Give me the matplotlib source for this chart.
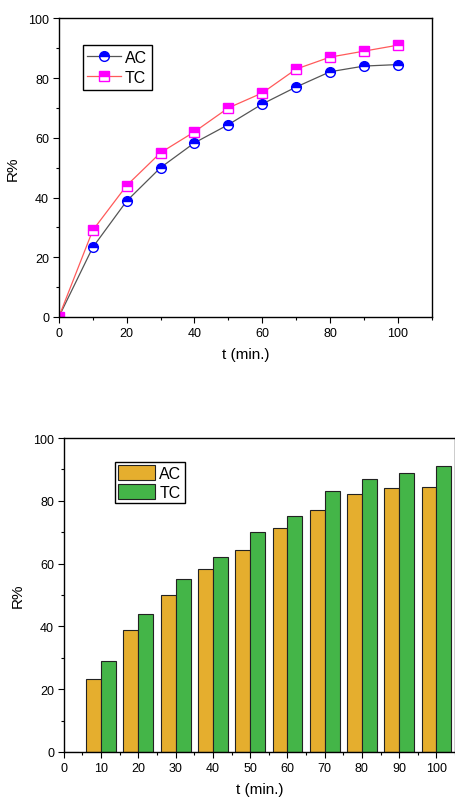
import numpy as np
import matplotlib
matplotlib.use("Agg")
import matplotlib.pyplot as plt
from matplotlib.ticker import MultipleLocator

matplotlib.rcParams['font.family'] = ['Liberation Sans', 'DejaVu Sans']
matplotlib.rcParams['font.size'] = 9

# removal efficiency vs contact time
t = [0, 10, 20, 30, 40, 50, 60, 70, 80, 90, 100]
r_ac = [0, 23.3, 38.8, 50.0, 58.3, 64.4, 71.3, 77.0, 82.1, 84.0, 84.5]
r_tc = [0, 29.0, 44.0, 55.0, 62.0, 70.0, 75.0, 83.0, 87.0, 89.0, 91.0]

fig = plt.figure(figsize=(4.56, 8.03), dpi=100)

# --- line plot ---
ax1 = fig.add_axes([0.129, 0.604, 0.818, 0.372])
ax1.plot(t, r_ac, color="#555555", lw=0.9, marker="o", ms=7,
         mfc="blue", mfcalt="white", fillstyle="top", mec="blue", mew=1.0, label="AC")
ax1.plot(t, r_tc, color="#ff5a5a", lw=0.9, marker="s", ms=6.5,
         mfc="#ff00ff", mfcalt="white", fillstyle="top", mec="#ff00ff", mew=1.0, label="TC")
ax1.set_xlim(0, 110)
ax1.set_ylim(0, 100)
ax1.xaxis.set_major_locator(MultipleLocator(20))
ax1.xaxis.set_minor_locator(MultipleLocator(10))
ax1.yaxis.set_major_locator(MultipleLocator(20))
ax1.yaxis.set_minor_locator(MultipleLocator(10))
ax1.set_xlabel("t (min.)", fontsize=11, labelpad=6)
ax1.set_ylabel("R%", fontsize=11, labelpad=6)
leg1 = ax1.legend(loc="upper left", bbox_to_anchor=(0.064, 0.91), borderaxespad=0,
                  fontsize=11.5, fancybox=False, edgecolor="black", framealpha=1,
                  handlelength=2.1, handletextpad=0.25, borderpad=0.3, labelspacing=0.3)
leg1.get_frame().set_linewidth(1.0)

# --- bar plot ---
ax2 = fig.add_axes([0.140, 0.0623, 0.858, 0.391])
w = 4
ax2.bar(np.array(t) - w / 2, r_ac, width=w, color="#e5ae2e", edgecolor="#222222", lw=0.8, label="AC")
ax2.bar(np.array(t) + w / 2, r_tc, width=w, color="#44b548", edgecolor="#222222", lw=0.8, label="TC")
ax2.set_xlim(0, 105)
ax2.set_ylim(0, 100)
ax2.xaxis.set_major_locator(MultipleLocator(10))
ax2.xaxis.set_minor_locator(MultipleLocator(5))
ax2.yaxis.set_major_locator(MultipleLocator(20))
ax2.yaxis.set_minor_locator(MultipleLocator(10))
ax2.set_xlabel("t (min.)", fontsize=11, labelpad=6)
ax2.set_ylabel("R%", fontsize=11, labelpad=6)
leg2 = ax2.legend(loc="upper left", bbox_to_anchor=(0.13, 0.924), borderaxespad=0,
                  fontsize=11.5, fancybox=False, edgecolor="black", framealpha=1,
                  handlelength=2.3, handleheight=1.1, handletextpad=0.3,
                  borderpad=0.2, labelspacing=0.15)
leg2.get_frame().set_linewidth(1.0)

for ax in (ax1, ax2):
    for s in ax.spines.values():
        s.set_linewidth(1.0)
    ax.tick_params(which="both", direction="out", top=False, right=False)
    ax.tick_params(which="major", length=4, width=0.8, pad=3)
    ax.tick_params(which="minor", length=2.5, width=0.8)

fig.savefig("out.png", dpi=100)
